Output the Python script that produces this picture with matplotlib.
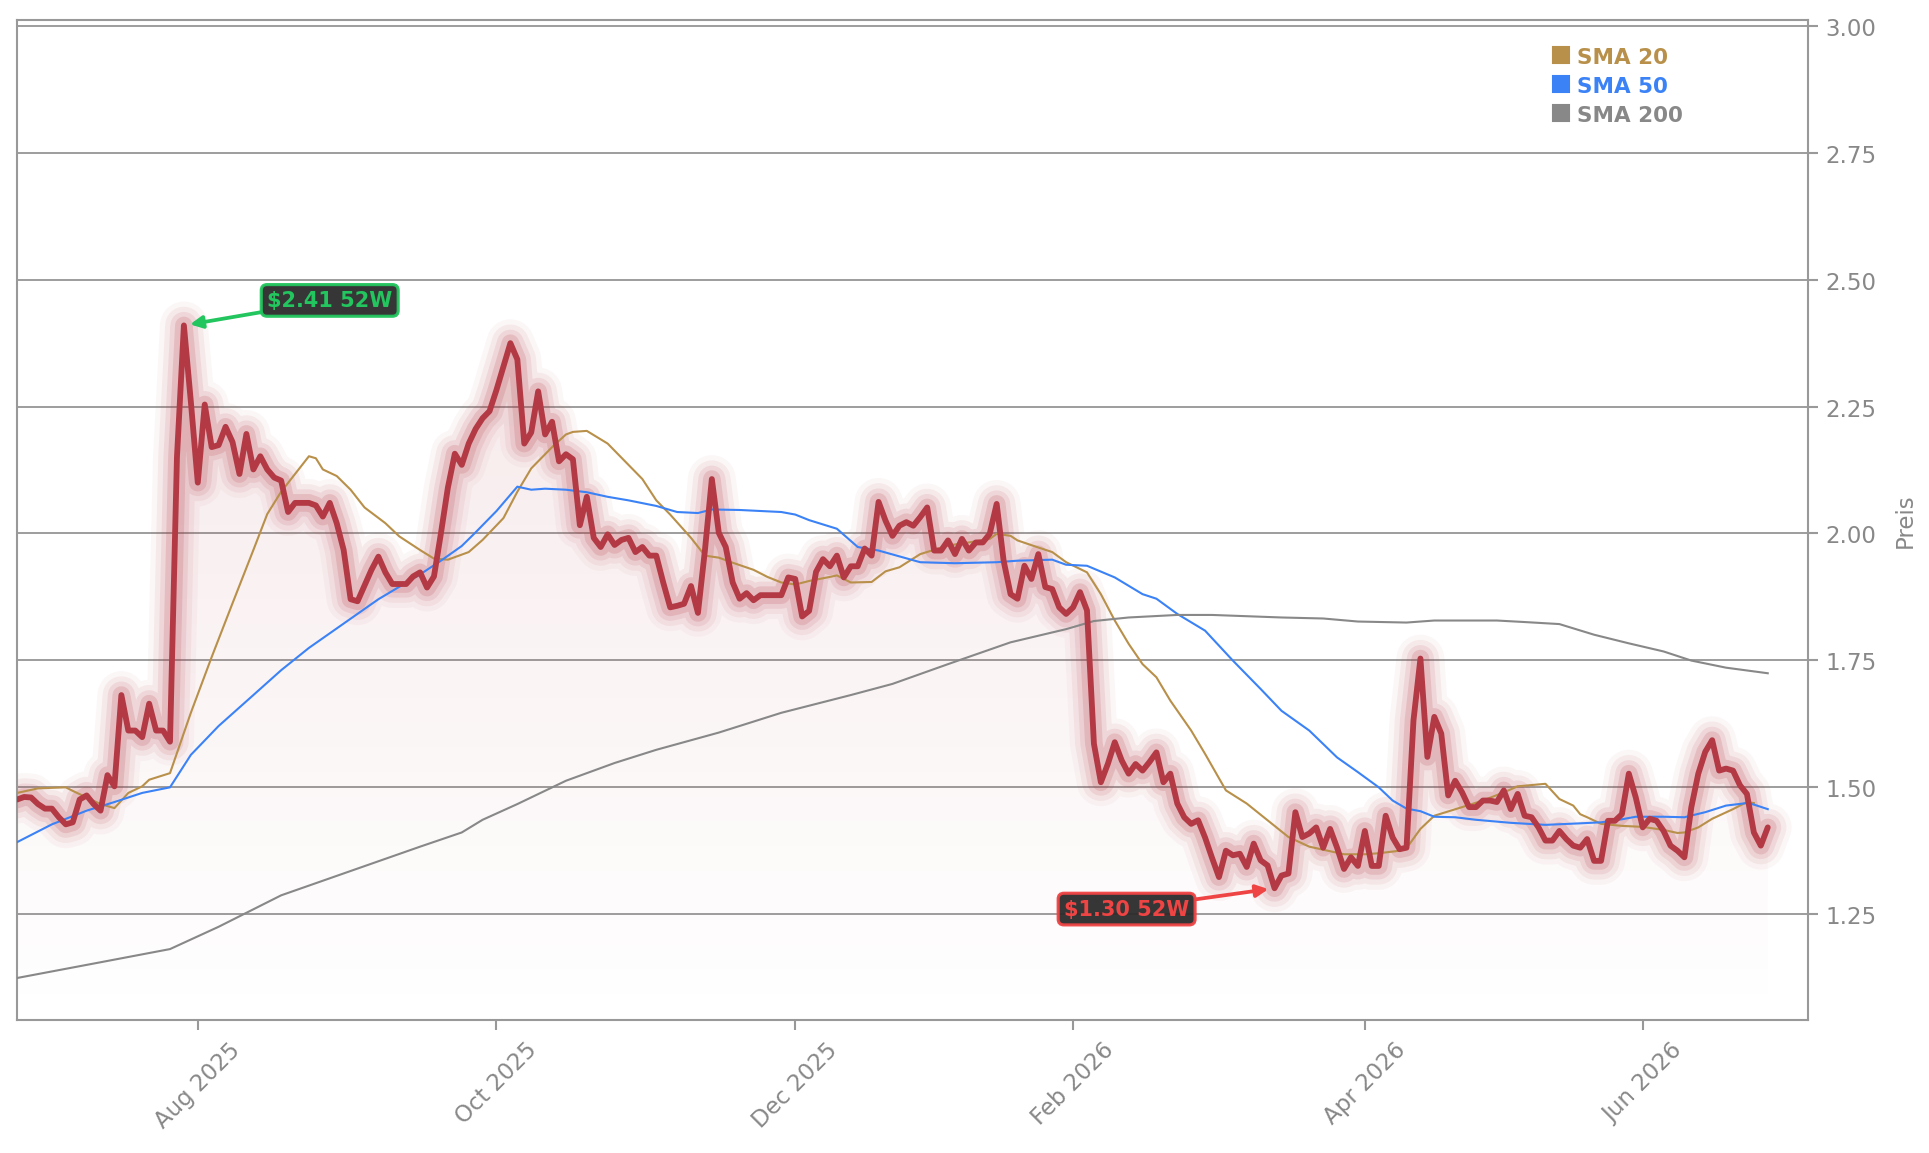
"""Price chart with 52W high/low markers and SMA 20/50/200 overlays.

Saves to out.png.
"""

import numpy as np
import matplotlib
matplotlib.use("Agg")
import matplotlib.pyplot as plt
from matplotlib.colors import LinearSegmentedColormap
from matplotlib.lines import Line2D
from matplotlib.patches import Polygon

# ── Data (one value per trading day) ─────────────────────────────────────
price = [
    1.475, 1.480, 1.479, 1.466, 1.457, 1.457, 1.440, 1.426, 1.430, 1.475,
    1.483, 1.466, 1.453, 1.523, 1.501, 1.681, 1.611, 1.611, 1.598, 1.664,
    1.611, 1.611, 1.589, 2.150, 2.410, 2.260, 2.100, 2.254, 2.170, 2.174,
    2.210, 2.180, 2.117, 2.196, 2.126, 2.152, 2.126, 2.110, 2.104, 2.042,
    2.060, 2.060, 2.060, 2.055, 2.033, 2.060, 2.020, 1.967, 1.870, 1.866,
    1.897, 1.928, 1.954, 1.923, 1.900, 1.900, 1.900, 1.915, 1.923, 1.893,
    1.915, 2.000, 2.090, 2.157, 2.135, 2.177, 2.206, 2.227, 2.241, 2.283,
    2.329, 2.375, 2.343, 2.177, 2.199, 2.280, 2.195, 2.220, 2.142, 2.156,
    2.146, 2.016, 2.072, 1.991, 1.973, 1.998, 1.977, 1.987, 1.991, 1.963,
    1.973, 1.956, 1.956, 1.903, 1.854, 1.857, 1.861, 1.896, 1.843, 1.966,
    2.107, 2.001, 1.973, 1.903, 1.871, 1.882, 1.868, 1.878, 1.878, 1.878,
    1.878, 1.913, 1.910, 1.836, 1.847, 1.924, 1.949, 1.935, 1.956, 1.913,
    1.935, 1.935, 1.970, 1.956, 2.062, 2.025, 1.995, 2.015, 2.022, 2.015,
    2.032, 2.051, 1.966, 1.966, 1.986, 1.959, 1.989, 1.966, 1.982, 1.982,
    1.999, 2.058, 1.946, 1.880, 1.871, 1.936, 1.910, 1.959, 1.894, 1.890,
    1.854, 1.841, 1.854, 1.884, 1.848, 1.585, 1.509, 1.545, 1.588, 1.552,
    1.526, 1.545, 1.532, 1.549, 1.568, 1.509, 1.526, 1.467, 1.440, 1.427,
    1.434, 1.400, 1.360, 1.322, 1.374, 1.365, 1.368, 1.342, 1.388, 1.355,
    1.345, 1.300, 1.325, 1.329, 1.450, 1.401, 1.408, 1.420, 1.380, 1.417,
    1.380, 1.338, 1.361, 1.344, 1.413, 1.344, 1.344, 1.443, 1.400, 1.377,
    1.380, 1.631, 1.753, 1.559, 1.638, 1.605, 1.483, 1.512, 1.489, 1.460,
    1.460, 1.473, 1.473, 1.470, 1.493, 1.456, 1.486, 1.443, 1.440, 1.420,
    1.394, 1.394, 1.413, 1.397, 1.384, 1.380, 1.397, 1.354, 1.354, 1.433,
    1.433, 1.446, 1.526, 1.479, 1.420, 1.437, 1.433, 1.413, 1.384, 1.374,
    1.361, 1.460, 1.526, 1.569, 1.592, 1.532, 1.536, 1.532, 1.503, 1.486,
    1.410, 1.384, 1.420,
]

# Moving averages, read at their bends (trading-day index, value)
sma20_idx = [0, 3, 7, 8, 12, 14, 16, 18, 19, 22, 25, 28, 31, 34, 36, 38, 42,
             43, 44, 46, 48, 50, 53, 55, 58, 60, 62, 65, 67, 70, 72, 74, 77,
             79, 80, 82, 85, 87, 90, 92, 94, 97, 99, 101, 103, 106, 108, 110,
             112, 114, 117, 118, 119, 120, 123, 125, 127, 130, 134, 137, 140,
             141, 143, 144, 147, 149, 151, 154, 156, 158, 160, 162, 164, 166,
             169, 171, 174, 177, 180, 183, 186, 191, 194, 196, 199, 200, 202,
             204, 208, 211, 214, 216, 220, 222, 224, 225, 226, 228, 231, 234,
             237, 239, 240, 242, 244, 247, 249, 250]
sma20_val = [1.488, 1.497, 1.499, 1.492, 1.466, 1.458, 1.488, 1.501, 1.514,
             1.527, 1.646, 1.756, 1.862, 1.967, 2.038, 2.082, 2.152, 2.148,
             2.126, 2.113, 2.086, 2.051, 2.020, 1.994, 1.967, 1.950, 1.948,
             1.963, 1.987, 2.030, 2.082, 2.128, 2.170, 2.195, 2.200, 2.202,
             2.177, 2.149, 2.107, 2.065, 2.037, 1.991, 1.956, 1.952, 1.942,
             1.928, 1.914, 1.903, 1.899, 1.906, 1.914, 1.917, 1.910, 1.903,
             1.904, 1.925, 1.933, 1.959, 1.976, 1.982, 1.989, 1.999, 1.995,
             1.986, 1.972, 1.963, 1.943, 1.923, 1.880, 1.828, 1.782, 1.742,
             1.716, 1.670, 1.611, 1.565, 1.493, 1.467, 1.434, 1.401, 1.382,
             1.367, 1.367, 1.369, 1.374, 1.379, 1.417, 1.443, 1.460, 1.473,
             1.489, 1.501, 1.506, 1.476, 1.463, 1.446, 1.440, 1.427, 1.423,
             1.421, 1.415, 1.409, 1.410, 1.420, 1.437, 1.456, 1.470, 1.468]

sma50_idx = [0, 5, 10, 14, 18, 22, 25, 29, 34, 38, 42, 47, 52, 58, 61, 64,
             66, 69, 72, 74, 76, 79, 82, 85, 88, 92, 95, 98, 100, 104, 110,
             112, 114, 118, 121, 124, 130, 135, 141, 144, 149, 151, 154, 158,
             162, 164, 167, 171, 175, 179, 182, 186, 190, 193, 196, 198, 200,
             202, 204, 207, 210, 215, 220, 225, 228, 231, 233, 237, 240, 243,
             246, 249, 250, 252]
sma50_val = [1.391, 1.426, 1.453, 1.470, 1.488, 1.499, 1.563, 1.620, 1.681,
             1.730, 1.774, 1.822, 1.870, 1.919, 1.946, 1.975, 2.002, 2.044,
             2.092, 2.086, 2.088, 2.086, 2.081, 2.072, 2.065, 2.054, 2.042,
             2.040, 2.047, 2.046, 2.042, 2.037, 2.026, 2.009, 1.973, 1.966,
             1.943, 1.941, 1.943, 1.946, 1.948, 1.938, 1.936, 1.913, 1.880,
             1.871, 1.841, 1.808, 1.749, 1.693, 1.650, 1.611, 1.558, 1.529,
             1.499, 1.473, 1.457, 1.452, 1.441, 1.440, 1.435, 1.429, 1.425,
             1.428, 1.430, 1.436, 1.441, 1.441, 1.440, 1.450, 1.463, 1.468,
             1.465, 1.456]

sma200_idx = [0, 12, 22, 29, 38, 48, 58, 64, 67, 72, 79, 86, 92, 101, 110,
              120, 126, 134, 143, 151, 155, 160, 167, 172, 182, 188, 193, 200,
              204, 213, 217, 222, 227, 232, 237, 241, 246, 252]
sma200_val = [1.123, 1.154, 1.180, 1.224, 1.286, 1.334, 1.382, 1.410, 1.435,
              1.466, 1.512, 1.547, 1.573, 1.607, 1.646, 1.681, 1.703, 1.742,
              1.785, 1.811, 1.827, 1.834, 1.839, 1.839, 1.834, 1.832, 1.826,
              1.824, 1.828, 1.828, 1.825, 1.821, 1.800, 1.783, 1.767, 1.749,
              1.735, 1.724]

# First trading day of each labelled month (index into price)
tick_pos = [26, 69, 112, 152, 194, 234]
tick_labels = ["Aug 2025", "Oct 2025", "Dec 2025", "Feb 2026", "Apr 2026", "Jun 2026"]

# ── Style ────────────────────────────────────────────────────────────────
PRICE_COLOR = "#b33a45"
SMA_STYLE = {
    "SMA 20":  {"color": "#b8904a", "lw": 1.0},
    "SMA 50":  {"color": "#3b82f6", "lw": 1.0},
    "SMA 200": {"color": "#888888", "lw": 1.0},
}
AXIS_GRAY = "#999999"
TEXT_GRAY = "#888888"
HIGH_COLOR = "#22c55e"
LOW_COLOR = "#ef4444"


def plot_price_chart():
    x = np.arange(len(price))
    y = np.array(price)
    hi_i, lo_i = int(np.argmax(y)), int(np.argmin(y))
    y_lo, y_hi = y.min() * 0.8, y.max() * 1.25

    fig = plt.figure(figsize=(12.86, 7.693), dpi=150)
    ax = fig.add_axes([0.0089, 0.1152, 0.9284, 0.8667])

    # ── gradient fill under the price ────────────────────────────────────
    verts = np.column_stack([np.r_[x, x[-1], x[0]], np.r_[y, y_lo, y_lo]])
    clip = Polygon(verts, closed=True, facecolor="none", edgecolor="none")
    ax.add_patch(clip)
    cmap = LinearSegmentedColormap.from_list(
        "fade", [(0.70, 0.23, 0.27, 0.0), (0.70, 0.23, 0.27, 0.11)])
    grad = np.linspace(1, 0, 256).reshape(-1, 1)
    im = ax.imshow(grad, extent=[x[0], x[-1], y_lo, y.max()], aspect="auto",
                   cmap=cmap, origin="upper", zorder=1, interpolation="bicubic")
    im.set_clip_path(clip)

    # ── price line with glow ─────────────────────────────────────────────
    for lw, a in [(23, 0.04), (18, 0.07), (13, 0.10), (8.5, 0.16)]:
        ax.plot(x, y, color=PRICE_COLOR, lw=lw, alpha=a, zorder=2,
                solid_joinstyle="round", solid_capstyle="round")
    ax.plot(x, y, color=PRICE_COLOR, lw=2.8, zorder=5,
            solid_joinstyle="round", solid_capstyle="round")

    # ── moving averages ──────────────────────────────────────────────────
    for (name, st), (xi, yi) in zip(SMA_STYLE.items(),
                                    [(sma20_idx, sma20_val),
                                     (sma50_idx, sma50_val),
                                     (sma200_idx, sma200_val)]):
        ax.plot(xi, yi, color=st["color"], lw=st["lw"], zorder=4)

    # ── 52W high / low annotations ───────────────────────────────────────
    for idx, col, off in [(hi_i, HIGH_COLOR, (70, 12)), (lo_i, LOW_COLOR, (-71, -10))]:
        ax.annotate(
            f"${y[idx]:.2f} 52W", xy=(x[idx], y[idx]), xytext=off,
            textcoords="offset points", ha="center", va="center",
            fontsize=10, fontweight="bold", color=col, zorder=10,
            bbox=dict(boxstyle="round,pad=0.28", fc="#2b2b2b", ec=col, lw=1.5, alpha=0.95),
            arrowprops=dict(arrowstyle="-|>", color=col, lw=1.8, mutation_scale=12,
                            shrinkA=0, shrinkB=3),
        )

    # ── axes formatting ──────────────────────────────────────────────────
    ax.set_xlim(0, 257.8)
    ax.set_ylim(y_lo, y_hi)
    ax.set_yticks(np.arange(1.25, 3.01, 0.25))
    ax.yaxis.set_major_formatter(plt.FormatStrFormatter("%.2f"))
    ax.yaxis.tick_right()
    ax.yaxis.set_label_position("right")
    ax.set_ylabel("Preis", fontsize=11, color=TEXT_GRAY, labelpad=8)
    ax.set_xticks(tick_pos)
    ax.set_xticklabels(tick_labels, rotation=45, ha="center")
    ax.tick_params(axis="both", colors=AXIS_GRAY, labelcolor=TEXT_GRAY,
                   labelsize=11, length=5, width=1)
    ax.grid(True, axis="y", color=AXIS_GRAY, lw=0.9)
    ax.set_axisbelow(True)
    for sp in ax.spines.values():
        sp.set_color(AXIS_GRAY)
        sp.set_linewidth(1.0)

    handles = [Line2D([], [], marker="s", ls="none", color=st["color"], markersize=8)
               for st in SMA_STYLE.values()]
    leg = ax.legend(handles, list(SMA_STYLE.keys()), loc="upper left",
                    bbox_to_anchor=(0.849, 0.984), frameon=False, fontsize=10.3,
                    handletextpad=0.15, labelspacing=0.42, borderpad=0,
                    handlelength=1.2)
    for txt, st in zip(leg.get_texts(), SMA_STYLE.values()):
        txt.set_color(st["color"])
        txt.set_fontweight("bold")

    fig.savefig("out.png", dpi=150)
    plt.close(fig)


if __name__ == "__main__":
    plot_price_chart()
